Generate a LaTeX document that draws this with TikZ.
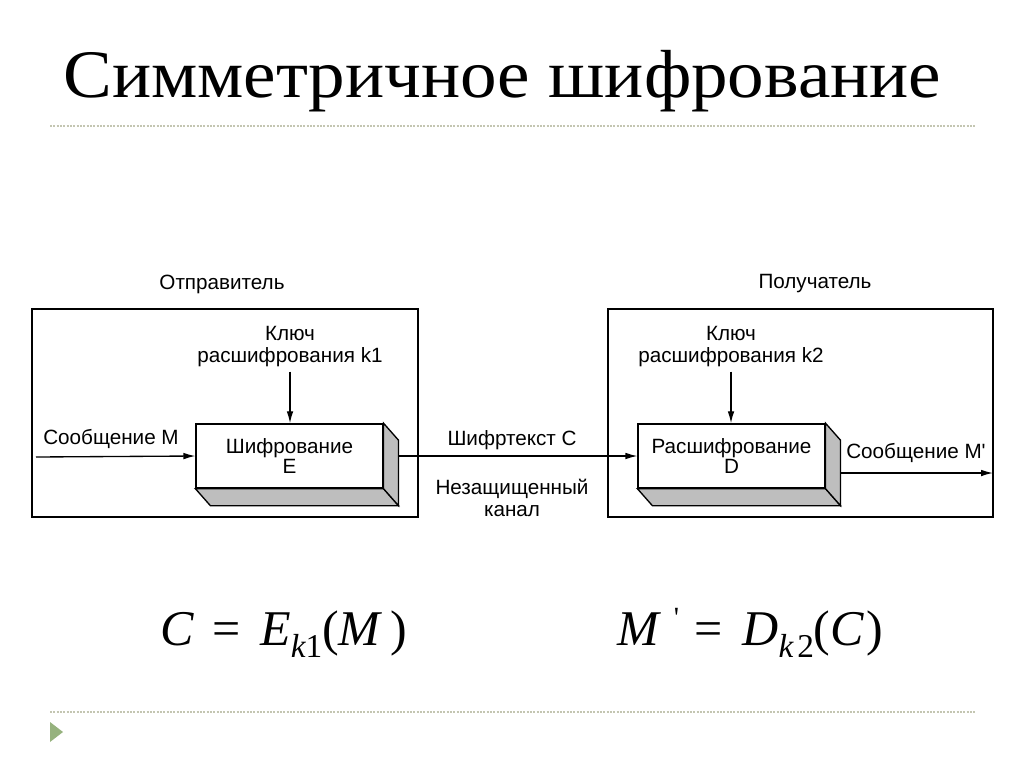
\documentclass[tikz,border=0pt]{standalone}
\usepackage{fontspec}
\setmainfont{Liberation Sans}
\newfontfamily\titlefont{Liberation Serif}[FakeStretch=1.075]
\newfontfamily\eqfont{Liberation Serif}
\usetikzlibrary{positioning}
\usetikzlibrary{calc,arrows.meta}
\definecolor{rulecol}{RGB}{196,198,178}
\definecolor{bulletcol}{RGB}{150,178,126}
\definecolor{facecol}{RGB}{190,190,190}
\tikzset{
lbl/.style={font=\fontsize{15.5}{16.5}\selectfont,inner sep=0pt,align=center},
frame/.style={draw,line width=1.1pt,inner sep=0pt,minimum height=156pt},
block/.style={draw,line width=1.1pt,fill=white,inner sep=0pt,align=center,
  minimum width=140pt,minimum height=48pt,font=\fontsize{15.5}{15}\selectfont},
face/.style={draw,line width=1pt,fill=facecol},
arr/.style={-{Latex[length=9pt,width=5pt]},line width=1pt},
dotrule/.style={rulecol,line width=1pt,dash pattern=on 1.5pt off 1pt},
eqn/.style={anchor=base west,inner sep=0pt,font=\eqfont\fontsize{37.5}{40}\selectfont}
}

\begin{document}
\begin{tikzpicture}[x=0.75pt,y=-0.75pt]
\useasboundingbox (0,0) rectangle (1024,767);

% title and rules
\node [anchor=base west,inner sep=0pt,font=\titlefont\fontsize{51}{51}\selectfont]
  (title) at (63,98) {Симметричное шифрование};
\draw [dotrule] (50,126) -- (975,126);
\draw [dotrule] (50,712) -- (975,712);
\fill [bulletcol] (50,722) -- (63,732) -- (50,742) -- cycle;

% sender and receiver
\path
(225,413) node [frame,minimum width=289.5pt](sender) {}
(800.5,413) node [frame,minimum width=288.75pt](receiver) {}
(222,284) node [lbl](sname) {Отправитель}
(815,284) node [lbl](rname) {Получатель}
(289.5,456) node [block](enc) {Шифрование\\E}
(731.5,456) node [block](dec) {Расшифрование\\D}
(290,347) node [lbl](key1) {Ключ\\расшифрования k1}
(731,347) node [lbl](key2) {Ключ\\расшифрования k2};

\coordinate (min) at (36,457);
\coordinate (mout) at (993,473);

\node [lbl] (msg) at (111,439) {Сообщение M};
\node [lbl] (ctext) at (512,440) {Шифртекст C};
\node [lbl] (chan) at (512,498) {Незащищенный\\канал};
\node [lbl] (msg2) at (916,453) {Сообщение M\textquotesingle};

\draw [arr] (min) -- (enc.west);
\draw [arr] (enc.east) -- (dec.west);
\draw [arr] ($(dec.east)+(0,17)$) -- (mout);
\draw [arr,shorten <=3pt] (key1.south) -- (key1.south |- enc.north);
\draw [arr,shorten <=3pt] (key2.south) -- (key2.south |- dec.north);

% 3d faces
\draw [face] (enc.south west) -- (enc.south east) -- ($(enc.south east)+(15,17)$)
  -- ($(enc.south west)+(15,17)$) -- cycle;
\draw [face] (enc.north east) -- ($(enc.north east)+(15,17)$)
  -- ($(enc.south east)+(15,17)$) -- (enc.south east) -- cycle;
\draw [face] (dec.south west) -- (dec.south east) -- ($(dec.south east)+(15,17)$)
  -- ($(dec.south west)+(15,17)$) -- cycle;
\draw [face] (dec.north east) -- ($(dec.north east)+(15,17)$)
  -- ($(dec.south east)+(15,17)$) -- (dec.south east) -- cycle;

% formulas
\node [eqn] (eq1) at (160,645) {\itshape C\hspace{0.12em} \upshape=\hspace{0.15em} \itshape E\raisebox{-9pt}{\fontsize{25}{25}\selectfont\itshape k\upshape 1}\upshape(\itshape M\upshape\hspace{0.2em})};
\node [eqn] (eq2) at (617,645) {\itshape M\hspace{0.3em}\raisebox{0.35em}{\fontsize{22}{22}\selectfont\upshape\textquotesingle}\hspace{0.3em}\upshape=\hspace{0.15em} \itshape D\raisebox{-9pt}{\fontsize{25}{25}\selectfont\itshape k\hspace{0.12em}\upshape 2}\upshape(\itshape C\upshape\hspace{0.05em})};

\end{tikzpicture}
\end{document}
